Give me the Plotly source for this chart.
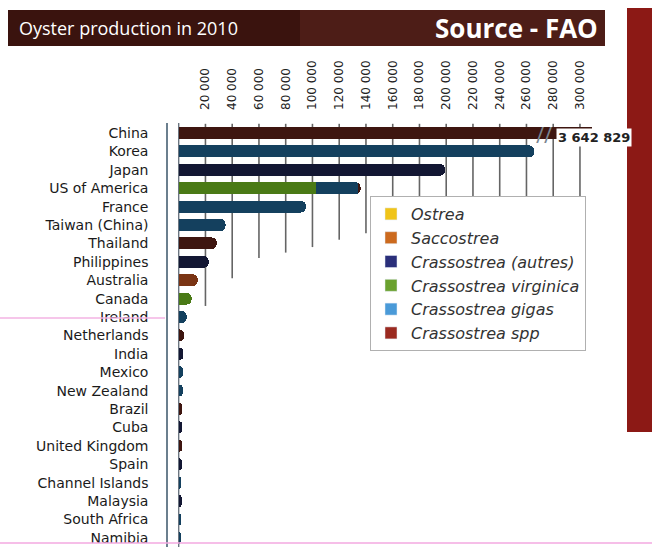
import plotly.graph_objects as go

# ---------------- data ----------------
countries = ["China", "Korea", "Japan", "US of America", "France", "Taiwan (China)",
             "Thailand", "Philippines", "Australia", "Canada", "Ireland", "Netherlands",
             "India", "Mexico", "New Zealand", "Brazil", "Cuba", "United Kingdom",
             "Spain", "Channel Islands", "Malaysia", "South Africa", "Namibia"]

species = ["Ostrea", "Saccostrea", "Crassostrea (autres)", "Crassostrea virginica",
           "Crassostrea gigas", "Crassostrea spp"]

ostrea      = [0, 0, 0, 0, 0, 0, 0, 0, 0, 0, 0, 0, 0, 0, 0, 0, 0, 0, 0, 0, 0, 0, 0]
saccostrea  = [0, 0, 0, 0, 0, 0, 0, 0, 14200, 0, 0, 0, 0, 0, 0, 0, 0, 0, 0, 0, 0, 0, 0]
autres      = [0, 0, 199000, 0, 0, 0, 0, 22400, 0, 0, 0, 0, 3500, 0, 0, 0, 2600, 0, 2400, 0, 2200, 0, 0]
virginica   = [0, 0, 0, 103000, 0, 0, 0, 0, 0, 9700, 0, 0, 0, 0, 0, 0, 0, 0, 0, 0, 0, 0, 0]
gigas       = [0, 266000, 0, 31000, 95000, 35000, 0, 0, 0, 0, 6000, 0, 0, 3200, 3000, 0, 0, 0, 0, 2000, 0, 1800, 1500]
spp         = [3642829, 0, 0, 2000, 0, 0, 28400, 0, 0, 0, 0, 4000, 0, 0, 0, 2800, 0, 2500, 0, 0, 0, 0, 0]

tick_values = [20000, 40000, 60000, 80000, 100000, 120000, 140000, 160000,
               180000, 200000, 220000, 240000, 260000, 280000, 300000]
tick_labels = ["20 000", "40 000", "60 000", "80 000", "100 000", "120 000", "140 000",
               "160 000", "180 000", "200 000", "220 000", "240 000", "260 000",
               "280 000", "300 000"]

china_total = spp[0]

# ---------------- styles ----------------
series_values = [ostrea, saccostrea, autres, virginica, gigas, spp]
bar_colors = ["#a88410", "#7a3414", "#131733", "#4a7a16", "#14405e", "#3e1610"]
legend_colors = ["#f0c419", "#cc6a1e", "#2a2f7a", "#6aa12e", "#4a9ad8", "#9b2a20"]
grid_end_rows = [9.4, 7.9, 6.8, 6.5, 6.2, 5.8, 5.45, 11.8, 11.8, 11.8, 11.8, 11.8, 11.8, 11.8, 11.8]

W, H = 652, 552
L, R, T, B = 168, 592, 123, 547


def px(x):
    return (x - L) / (R - L)


def py(y):
    return (B - y) / (B - T)


FONT = "DejaVu Sans"
HFONT = "Open Sans"

fig = go.Figure()

for name, vals, col in zip(species, series_values, bar_colors):
    fig.add_trace(go.Bar(
        y=countries, x=vals, orientation="h", name=name,
        marker=dict(color=col, line=dict(width=0), cornerradius=5),
        showlegend=False, hoverinfo="x+y+name",
    ))

for name, col in zip(species, legend_colors):
    fig.add_trace(go.Bar(y=[None], x=[None], orientation="h", name=name,
                         marker=dict(color=col), showlegend=True))

shapes = []
# staircase gridlines
for v, end in zip(tick_values, grid_end_rows):
    shapes.append(dict(type="line", xref="x", yref="y", x0=v, x1=v, y0=-0.5, y1=end,
                       line=dict(color="#656565", width=1.6), layer="below"))
# zero line
shapes.append(dict(type="line", xref="x", yref="paper", x0=0, x1=0, y0=0, y1=1,
                   line=dict(color="#6b7580", width=1.4), layer="below"))
# header banner
shapes.append(dict(type="rect", xref="paper", yref="paper", x0=px(8), x1=px(605),
                   y0=py(46), y1=py(10), fillcolor="#3a130e", line=dict(width=0)))
shapes.append(dict(type="rect", xref="paper", yref="paper", x0=px(300), x1=px(605),
                   y0=py(46), y1=py(10), fillcolor="#4d1d17", line=dict(width=0)))
# red side bar
shapes.append(dict(type="rect", xref="paper", yref="paper", x0=px(627), x1=px(652),
                   y0=py(432), y1=py(8), fillcolor="#8c1915", line=dict(width=0)))
# pink scan lines
shapes.append(dict(type="line", xref="paper", yref="paper", x0=px(0), x1=px(165),
                   y0=py(318), y1=py(318), line=dict(color="#f3b3e3", width=1.5)))
shapes.append(dict(type="line", xref="paper", yref="paper", x0=px(0), x1=px(652),
                   y0=py(543), y1=py(543), line=dict(color="#f3a8e0", width=1.5)))

annotations = [
    dict(xref="paper", yref="paper", x=px(17), y=py(28), xanchor="left", yanchor="middle",
         text="Oyster production in 2010", showarrow=False,
         font=dict(family=HFONT, size=18, color="white")),
    dict(xref="paper", yref="paper", x=px(600), y=py(28), xanchor="right", yanchor="middle",
         text="<b>Source - FAO</b>", showarrow=False,
         font=dict(family=HFONT, size=26, color="white")),
    dict(xref="paper", yref="paper", x=px(594), y=py(137), xanchor="center", yanchor="middle",
         text="<b>" + f"{china_total:,}".replace(",", " ") + "</b>", showarrow=False,
         bgcolor="white", font=dict(family=FONT, size=13, color="#222")),
    dict(xref="paper", yref="paper", x=px(544), y=py(134), xanchor="center", yanchor="middle",
         text="//", showarrow=False, font=dict(family=HFONT, size=22, color="#7a8590")),
]

fig.update_layout(
    width=W, height=H,
    margin=dict(l=L, r=W - R, t=T, b=H - B, pad=0),
    paper_bgcolor="white", plot_bgcolor="rgba(0,0,0,0)",
    barmode="stack", bargap=0.35,
    font=dict(family=FONT, color="#222"),
    xaxis=dict(side="top", range=[-8000, 309000], tickvals=tick_values, ticktext=tick_labels,
               tickangle=-90, showgrid=False, zeroline=False, showline=False,
               ticks="", ticklabelstandoff=12,
               tickfont=dict(family=FONT, size=12, color="#222")),
    yaxis=dict(autorange="reversed", showgrid=False, zeroline=False, showline=True,
               linecolor="#6b7f8e", linewidth=1.5, ticks="", ticklabelstandoff=15,
               tickfont=dict(family=FONT, size=14, color="#1a1a1a")),
    legend=dict(x=px(370), y=py(196), xanchor="left", yanchor="top",
                bgcolor="white", bordercolor="#b0b0b0", borderwidth=1,
                traceorder="normal",
                font=dict(family=FONT, size=16, color="#333", style="italic"),
                itemclick=False, tracegroupgap=0),
    shapes=shapes, annotations=annotations,
)

fig.write_html("out.html", config={"displayModeBar": False},
               post_script="document.body.style.margin='0px';")
